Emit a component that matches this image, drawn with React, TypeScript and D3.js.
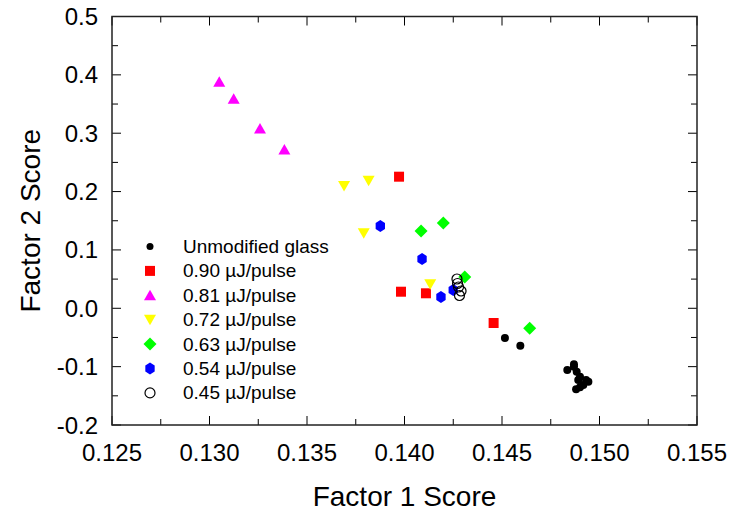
import React from "react";
import * as d3 from "d3";

const W = 733;
const H = 514;

const xTicks = [0.125, 0.13, 0.135, 0.14, 0.145, 0.15, 0.155];
const xTickLabels = ["0.125", "0.130", "0.135", "0.140", "0.145", "0.150", "0.155"];
const yTicks = [-0.2, -0.1, 0.0, 0.1, 0.2, 0.3, 0.4, 0.5];
const yTickLabels = ["-0.2", "-0.1", "0.0", "0.1", "0.2", "0.3", "0.4", "0.5"];
const xMinorTicks = [0.1275, 0.1325, 0.1375, 0.1425, 0.1475, 0.1525];
const yMinorTicks = [-0.15, -0.05, 0.05, 0.15, 0.25, 0.35, 0.45];

const unmodified: [number, number][] = [
  [0.14515, -0.0509],
  [0.14594, -0.0641],
  [0.14869, -0.096],
  [0.14835, -0.1058],
  [0.14869, -0.1001],
  [0.14883, -0.1087],
  [0.149, -0.1172],
  [0.14891, -0.1229],
  [0.14931, -0.1229],
  [0.14943, -0.1258],
  [0.14917, -0.1315],
  [0.149, -0.1354],
  [0.1488, -0.1388],
];
const pulse090: [number, number][] = [
  [0.13972, 0.2255],
  [0.13982, 0.0284],
  [0.1411, 0.0257],
  [0.14457, -0.0252],
];
const pulse081: [number, number][] = [
  [0.1305, 0.388],
  [0.13124, 0.359],
  [0.13259, 0.308],
  [0.13384, 0.272],
];
const pulse072: [number, number][] = [
  [0.1369, 0.2095],
  [0.13816, 0.2186],
  [0.13791, 0.1285],
  [0.14132, 0.0411],
];
const pulse063: [number, number][] = [
  [0.14085, 0.1324],
  [0.14199, 0.1461],
  [0.14309, 0.0536],
  [0.14642, -0.0343],
];
const pulse054: [number, number][] = [
  [0.13876, 0.141],
  [0.1409, 0.0845],
  [0.14187, 0.0193],
  [0.1425, 0.0313],
];
const pulse045: [number, number][] = [
  [0.14269, 0.0502],
  [0.14272, 0.0425],
  [0.14277, 0.0365],
  [0.1429, 0.0296],
  [0.14282, 0.0219],
];

const seriesNames = [
  "Unmodified glass",
  "0.90 µJ/pulse",
  "0.81 µJ/pulse",
  "0.72 µJ/pulse",
  "0.63 µJ/pulse",
  "0.54 µJ/pulse",
  "0.45 µJ/pulse",
];
const seriesData = [unmodified, pulse090, pulse081, pulse072, pulse063, pulse054, pulse045];

type Marker = { shape: string; fill: string; stroke: string };
const markers: Marker[] = [
  { shape: "dot", fill: "#000000", stroke: "none" },
  { shape: "square", fill: "#ff0000", stroke: "none" },
  { shape: "triUp", fill: "#ff00ff", stroke: "none" },
  { shape: "triDown", fill: "#ffff00", stroke: "none" },
  { shape: "diamond", fill: "#00ff00", stroke: "none" },
  { shape: "hex", fill: "#0000ff", stroke: "none" },
  { shape: "ring", fill: "none", stroke: "#000000" },
];

function markerPath(shape: string, legend = false): string {
  switch (shape) {
    case "dot": {
      const r = legend ? 3.5 : 4;
      const p = d3.path();
      p.arc(0, 0, r, 0, Math.PI * 2);
      return p.toString();
    }
    case "square":
      return "M-5,-5H5V5H-5Z";
    case "triUp":
      return "M0,-5.5L6,5L-6,5Z";
    case "triDown":
      return "M0,5.5L6,-5L-6,-5Z";
    case "diamond":
      return "M0,-6.5L6.5,0L0,6.5L-6.5,0Z";
    case "hex": {
      const r = 6;
      const pts = d3.range(6).map((i) => {
        const a = Math.PI / 2 + (i * Math.PI) / 3;
        return [r * 0.9 * Math.cos(a), r * Math.sin(a)];
      });
      return "M" + pts.map((p) => p.join(",")).join("L") + "Z";
    }
    case "ring": {
      const p = d3.path();
      p.arc(0, 0, 5, 0, Math.PI * 2);
      return p.toString();
    }
  }
  return "";
}

export default function App() {
  const left = 112;
  const right = 697;
  const top = 16.5;
  const bottom = 425;
  const x = d3.scaleLinear().domain([0.125, 0.155]).range([left, right]);
  const y = d3.scaleLinear().domain([-0.2, 0.5]).range([bottom, top]);
  const font = "Liberation Sans, Arial, Helvetica, sans-serif";
  const major = 9;
  const minor = 6;

  const legendX = 150;
  const legendTextX = 183;
  const legendY0 = 246.5;
  const legendDy = 24.4;

  return (
    <svg
      width={W}
      height={H}
      style={{ position: "absolute", left: 0, top: 0, background: "#ffffff" }}
      fontFamily={font}
    >
      <rect x={0} y={0} width={W} height={H} fill="#ffffff" />
      {/* ticks */}
      <g stroke="#000" strokeWidth={1}>
        {xTicks.map((t, i) => (
          <g key={"xt" + i}>
            <line x1={x(t)} x2={x(t)} y1={bottom} y2={bottom - major} />
            <line x1={x(t)} x2={x(t)} y1={top} y2={top + major} />
          </g>
        ))}
        {xMinorTicks.map((t, i) => (
          <g key={"xm" + i}>
            <line x1={x(t)} x2={x(t)} y1={bottom} y2={bottom - minor} />
            <line x1={x(t)} x2={x(t)} y1={top} y2={top + minor} />
          </g>
        ))}
        {yTicks.map((t, i) => (
          <g key={"yt" + i}>
            <line x1={left} x2={left + major} y1={y(t)} y2={y(t)} />
            <line x1={right} x2={right - major} y1={y(t)} y2={y(t)} />
          </g>
        ))}
        {yMinorTicks.map((t, i) => (
          <g key={"ym" + i}>
            <line x1={left} x2={left + minor} y1={y(t)} y2={y(t)} />
            <line x1={right} x2={right - minor} y1={y(t)} y2={y(t)} />
          </g>
        ))}
      </g>
      <rect
        x={left}
        y={top}
        width={right - left}
        height={bottom - top}
        fill="none"
        stroke="#222"
        strokeWidth={1.5}
      />
      {/* tick labels */}
      {xTicks.map((t, i) => (
        <text key={"xl" + i} x={x(t)} y={461} textAnchor="middle" fontSize={24} fill="#000">
          {xTickLabels[i]}
        </text>
      ))}
      {yTicks.map((t, i) => (
        <text
          key={"yl" + i}
          x={98}
          y={y(t) + 8.5}
          textAnchor="end"
          fontSize={24}
          fill="#000"
        >
          {yTickLabels[i]}
        </text>
      ))}
      {/* axis titles */}
      <text x={(left + right) / 2} y={506} textAnchor="middle" fontSize={28} fill="#000">
        Factor 1 Score
      </text>
      <text
        transform={`translate(40,${(top + bottom) / 2}) rotate(-90)`}
        textAnchor="middle"
        fontSize={28}
        fill="#000"
      >
        Factor 2 Score
      </text>
      {/* data */}
      {seriesData.map((s, si) => (
        <g key={"s" + si}>
          {s.map((d, di) => (
            <path
              key={di}
              d={markerPath(markers[si].shape)}
              transform={`translate(${x(d[0])},${y(d[1])})`}
              fill={markers[si].fill}
              stroke={markers[si].stroke}
              strokeWidth={1.2}
            />
          ))}
        </g>
      ))}
      {/* legend */}
      {seriesNames.map((name, i) => (
        <g key={"lg" + i}>
          <path
            d={markerPath(markers[i].shape, true)}
            transform={`translate(${legendX},${legendY0 + i * legendDy})`}
            fill={markers[i].fill}
            stroke={markers[i].stroke}
            strokeWidth={1.2}
          />
          <text x={legendTextX} y={legendY0 + i * legendDy + 6.5} fontSize={19} fill="#000">
            {name}
          </text>
        </g>
      ))}
    </svg>
  );
}
